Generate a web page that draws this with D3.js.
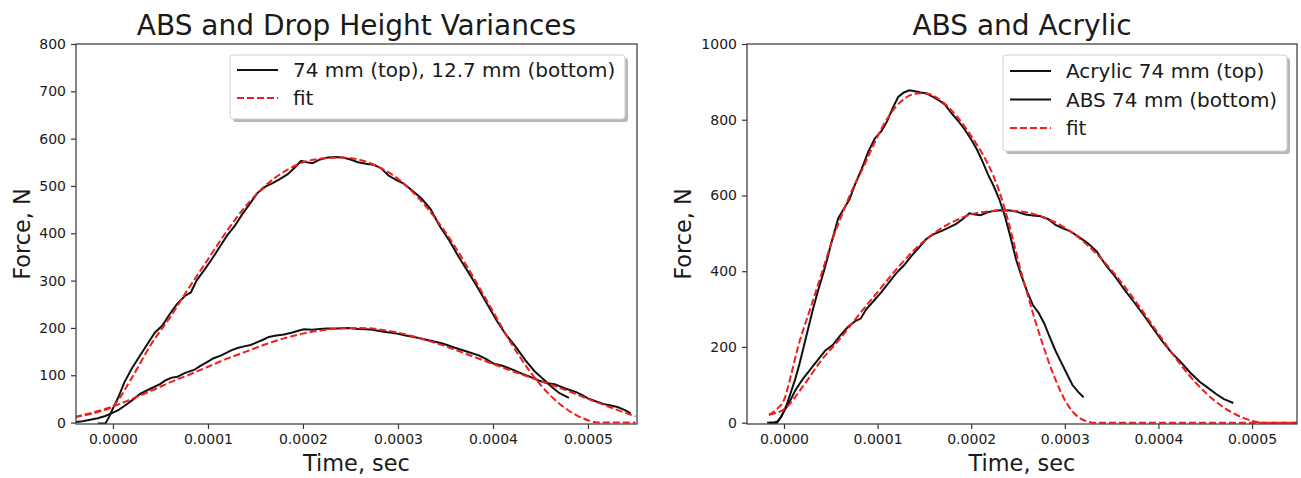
<!DOCTYPE html>
<html>
<head>
<meta charset="utf-8">
<script src="https://cdn.jsdelivr.net/npm/d3@7"></script>
<style>
  body { margin: 0; background: #fff; }
  text { font-family: "DejaVu Sans", sans-serif; fill: #1a1a1a; }
</style>
</head>
<body>
<svg id="chart" width="1301" height="478"></svg>
<script>
// times are in microseconds, forces in newtons
const abs74Time = [-16,-8,-4,0,6,12,20,28,36,44,52,60,68,76,82,88,96,104,112,120,128,136,144,152,160,168,176,184,192,198,204,210,218,226,234,242,250,258,266,274,282,290,298,306,314,324,334,344,354,364,374,384,394,404,414,424,434,444,454,462,470,480];
const abs74Force = [-2,-2,12,30,55,85,115,140,165,190,205,230,252,268,275,300,322,345,370,395,415,440,462,485,498,506,515,525,540,553,550,548,556,560,561,560,556,550,547,545,538,522,513,505,492,475,452,415,385,350,318,285,250,215,185,160,132,108,90,75,62,52];
const abs74FitTime = [-40,-16,0,20,40,60,80,100,120,140,160,180,200,220,240,260,280,300,320,340,360,380,400,420,440,460,480,500,510,550];
const abs74FitForce = [12,22,35,95,165,222,285,345,405,458,500,530,550,558,560,555,540,515,478,430,372,305,235,165,105,58,25,5,0,0];

const abs127Time = [-40,-32,-24,-16,-8,0,6,12,20,29,40,50,55,62,68,76,86,92,99,106,114,125,132,138,145,152,158,164,172,180,188,195,201,210,218,225,235,247,258,266,273,285,299,308,317,330,347,360,374,385,393,400,410,422,432,440,448,457,465,476,487,494,500,508,517,524,531,537,541,545];
const abs127Force = [1,3,6,9,14,21,27,35,47,61,72,82,89,95,97,105,112,120,128,136,142,153,158,161,164,170,175,181,184,186,190,194,197,196,198,199,199,200,198,197,196,192,188,184,181,175,167,158,149,142,134,125,120,111,102,96,89,83,81,72,65,58,51,45,39,36,33,28,24,19];
const abs127FitTime = [-40,-20,0,20,40,60,80,100,120,140,160,180,200,220,240,260,280,300,320,340,360,380,400,420,440,460,480,500,520,540,550];
const abs127FitForce = [12,22,34,50,67,85,101,118,135,150,165,178,188,195,199,200,197,190,180,168,154,139,124,109,95,81,66,50,35,20,13];

const acrylicTime = [-18,-10,-7,-3,0,4,8,12,16,21,26,31,36,42,46,50,54,58,64,70,76,83,90,97,104,110,116,122,128,134,140,146,152,158,165,172,178,185,192,200,206,212,218,224,230,236,242,248,254,260,266,272,278,284,290,296,302,308,314,320];
const acrylicForce = [0,1,3,15,30,55,85,115,150,200,250,300,345,395,430,470,505,540,565,590,630,670,715,750,770,795,830,860,872,878,875,872,870,862,852,840,820,800,778,748,722,690,655,625,590,545,490,430,385,345,310,290,262,225,190,160,130,100,82,67];
const acrylicFitTime = [-16,-8,0,8,15,28,41,52,62,72,83,95,105,115,125,135,145,155,165,175,185,195,205,212,224,234,244,252,260,268,276,284,292,300,308,316,324,330,550];
const acrylicFitForce = [20,35,60,130,200,300,400,485,550,610,665,730,780,820,848,865,870,868,855,835,808,775,738,710,650,580,490,410,340,272,210,152,102,60,30,12,3,0,0];

const timeTicks = [0, 0.0001, 0.0002, 0.0003, 0.0004, 0.0005];
const leftForceTicks = [0, 100, 200, 300, 400, 500, 600, 700, 800];
const rightForceTicks = [0, 200, 400, 600, 800, 1000];
const leftLegend = ["74 mm (top), 12.7 mm (bottom)", "fit"];
const rightLegend = ["Acrylic 74 mm (top)", "ABS 74 mm (bottom)", "fit"];

const svg = d3.select("#chart");

function toPoints(times, forces, minT) {
  return times.map((t, i) => ({t: t * 1e-6, f: forces[i]}))
    .filter(d => minT === undefined || d.t >= minT * 1e-6);
}

function drawPanel(p) {
  const x = d3.scaleLinear().domain(p.xDomain).range([p.left, p.right]);
  const y = d3.scaleLinear().domain(p.yDomain).range([p.bottom, p.top]);
  const g = svg.append("g");

  const clipId = "clip" + p.id;
  g.append("clipPath").attr("id", clipId).append("rect")
    .attr("x", p.left).attr("y", p.top)
    .attr("width", p.right - p.left).attr("height", p.bottom - p.top);

  const line = d3.line().x(d => x(d.t)).y(d => y(d.f));
  const smooth = d3.line().x(d => x(d.t)).y(d => y(d.f)).curve(d3.curveMonotoneX);

  const plot = g.append("g").attr("clip-path", `url(#${clipId})`);
  p.data.forEach(s => {
    plot.append("path").datum(s)
      .attr("fill", "none").attr("stroke", "#111").attr("stroke-width", 2)
      .attr("d", line);
  });
  p.fits.forEach(s => {
    plot.append("path").datum(s)
      .attr("fill", "none").attr("stroke", "#f21d1d").attr("stroke-width", 2)
      .attr("stroke-dasharray", "7,3")
      .attr("d", smooth);
  });

  // axes
  const xAxis = g.append("g").attr("transform", `translate(0,${p.bottom})`)
    .call(d3.axisBottom(x).tickValues(timeTicks).tickFormat(d3.format(".4f"))
      .tickSize(5).tickPadding(5).tickSizeOuter(0));
  const yAxis = g.append("g").attr("transform", `translate(${p.left},0)`)
    .call(d3.axisLeft(y).tickValues(p.yTicks).tickFormat(d3.format("d"))
      .tickSize(5).tickPadding(5).tickSizeOuter(0));
  [xAxis, yAxis].forEach(a => {
    a.select(".domain").remove();
    a.selectAll("line").attr("stroke", "#333").attr("stroke-width", 1.2);
    a.selectAll("text").attr("font-size", 14).attr("font-family", "DejaVu Sans").attr("fill", "#1a1a1a");
  });

  g.append("rect").attr("x", p.left).attr("y", p.top)
    .attr("width", p.right - p.left).attr("height", p.bottom - p.top)
    .attr("fill", "none").attr("stroke", "#444").attr("stroke-width", 1.3);

  // titles
  const cx = (p.left + p.right) / 2;
  g.append("text").attr("x", cx).attr("y", 35).attr("text-anchor", "middle")
    .attr("font-size", 28).text(p.title);
  g.append("text").attr("x", cx).attr("y", 471).attr("text-anchor", "middle")
    .attr("font-size", 22.4).text("Time, sec");
  g.append("text").attr("transform", `translate(${p.ylabelX},${(p.top + p.bottom) / 2}) rotate(-90)`)
    .attr("text-anchor", "middle").attr("font-size", 22.4).text("Force, N");

  // legend
  const L = p.legend;
  const lg = g.append("g");
  lg.append("rect").attr("x", L.x + 3).attr("y", L.y + 3).attr("width", L.w).attr("height", L.h)
    .attr("rx", 3).attr("fill", "#9a9a9a").attr("opacity", 0.7);
  lg.append("rect").attr("x", L.x).attr("y", L.y).attr("width", L.w).attr("height", L.h)
    .attr("rx", 3).attr("fill", "#fff").attr("stroke", "#cfcfcf").attr("stroke-width", 1);
  L.labels.forEach((label, i) => {
    const ry = L.rowY[i];
    const isFit = label === "fit";
    lg.append("line").attr("x1", L.x + 7).attr("x2", L.x + 48).attr("y1", ry).attr("y2", ry)
      .attr("stroke", isFit ? "#f21d1d" : "#111").attr("stroke-width", 2)
      .attr("stroke-dasharray", isFit ? "7,3" : null);
    lg.append("text").attr("x", L.x + 63).attr("y", ry + 7).attr("font-size", 20).text(label);
  });
}

drawPanel({
  id: "L", left: 76, right: 637, top: 44, bottom: 424,
  xDomain: [-0.0000389, 0.0005516], yDomain: [-3, 800], yTicks: leftForceTicks,
  title: "ABS and Drop Height Variances", ylabelX: 30,
  data: [toPoints(abs74Time, abs74Force), toPoints(abs127Time, abs127Force)],
  fits: [toPoints(abs74FitTime, abs74FitForce), toPoints(abs127FitTime, abs127FitForce)],
  legend: {x: 230, y: 55, w: 395, h: 64, rowY: [70, 98], labels: leftLegend}
});

drawPanel({
  id: "R", left: 747, right: 1297, top: 44, bottom: 424,
  xDomain: [-0.0000395, 0.000548], yDomain: [-3.5, 1000], yTicks: rightForceTicks,
  title: "ABS and Acrylic", ylabelX: 691,
  data: [toPoints(acrylicTime, acrylicForce), toPoints(abs74Time, abs74Force)],
  fits: [toPoints(acrylicFitTime, acrylicFitForce), toPoints(abs74FitTime, abs74FitForce, -16)],
  legend: {x: 1003, y: 55, w: 284, h: 96, rowY: [71, 99.5, 128], labels: rightLegend}
});
</script>
</body>
</html>
